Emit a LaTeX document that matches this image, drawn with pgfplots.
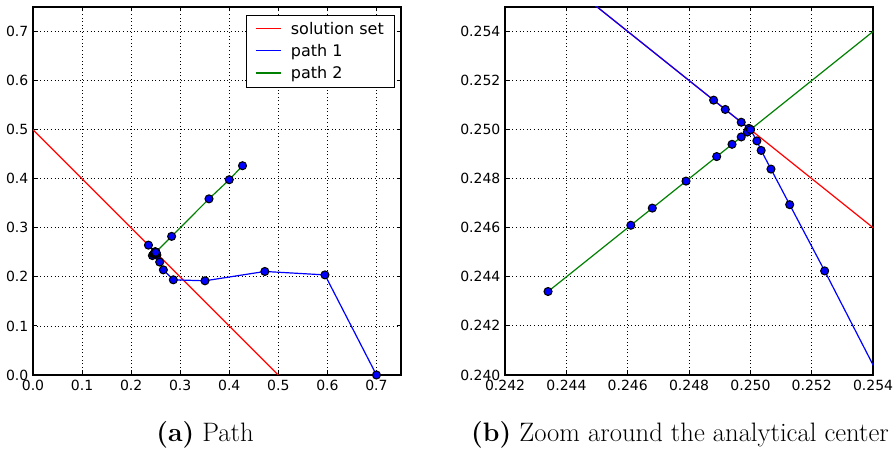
\documentclass[border=0pt]{standalone}
\usepackage{pgfplots}
\usepackage{pgfplotstable}
\pgfplotsset{compat=1.18}
\usepackage{fontspec}
\newfontfamily\dejavu{DejaVu Sans}

\definecolor{mplgreen}{rgb}{0,0.5,0}

\pgfplotstableread{
x y
0 0.5
0.5 0
}\solset

\pgfplotstableread{
x y
0.700 0.000
0.595 0.204
0.4725 0.211
0.3505 0.192
0.286 0.194
0.2657 0.2143
0.2582 0.2302
0.25242 0.24424
0.25128 0.24694
0.25067 0.24839
0.25035 0.24915
0.25021 0.24954
0.25000 0.25000
0.2353 0.2647
0.24880 0.25120
0.24918 0.25082
0.24970 0.25030
0.24995 0.25005
0.25000 0.25000
}\pathone

\pgfplotstableread{
x y
0.427 0.4265
0.400 0.398
0.3587 0.359
0.2825 0.2825
0.2434 0.2434
0.2461 0.2461
0.2468 0.2468
0.2479 0.2479
0.2489 0.2489
0.2494 0.2494
0.2497 0.2497
0.2499 0.2499
0.2500 0.2500
}\pathtwo

\pgfplotsset{
  mplstyle/.style={
    scale only axis, width=276pt, height=276pt,
    axis line style={black, line width=1pt},
    tick align=inside, major tick length=3pt,
    tick style={black, line width=0.8pt},
    grid=major,
    major grid style={black, line width=0.6pt, dash pattern=on 0.7pt off 2pt},
    tick label style={font=\dejavu\fontsize{10.5}{12}\selectfont},
    scaled ticks=false,
    /pgf/number format/assume math mode=true,
    clip=true,
  },
  dot/.style={mark=*, mark size=3pt, mark options={fill=blue, draw=black, line width=0.8pt}},
}

\begin{document}
\begin{tikzpicture}
\path[use as bounding box] (-24.75pt,-55.5pt) rectangle (647.25pt,281.25pt);

\begin{axis}[mplstyle,
  at={(0pt,0pt)}, anchor=south west,
  xmin=0, xmax=0.75, ymin=0, ymax=0.75,
  xtick={0,0.1,...,0.7}, ytick={0,0.1,...,0.7},
  xticklabel style={/pgf/number format/.cd, fixed, fixed zerofill, precision=1},
  yticklabel style={/pgf/number format/.cd, fixed, fixed zerofill, precision=1},
  legend style={at={(1,1)}, anchor=north east, xshift=-4.5pt, yshift=-6pt,
    draw=black, line width=0.8pt, fill=white, font=\dejavu\fontsize{12}{13}\selectfont,
    row sep=2pt, inner xsep=6pt, inner ysep=3pt},
  legend cell align=left,
  legend image code/.code={\draw[#1, line width=1.1pt] (0pt,0.5pt) -- (19pt,0.5pt); \path (24pt,0pt);},
]
\addplot[red, line width=0.9pt] table {\solset};
\addlegendentry{solution set}
\addplot[blue, line width=0.9pt, dot] table {\pathone};
\addlegendentry{path 1}
\addplot[mplgreen, line width=0.9pt, dot] table {\pathtwo};
\addlegendentry{path 2}
\end{axis}

\begin{axis}[mplstyle,
  at={(354pt,0pt)}, anchor=south west,
  xmin=0.242, xmax=0.254, ymin=0.240, ymax=0.255,
  xtick={0.242,0.244,0.246,0.248,0.250,0.252,0.254},
  ytick={0.240,0.242,0.244,0.246,0.248,0.250,0.252,0.254},
  xticklabel style={/pgf/number format/.cd, fixed, fixed zerofill, precision=3},
  yticklabel style={/pgf/number format/.cd, fixed, fixed zerofill, precision=3},
]
\addplot[red, line width=0.9pt] table {\solset};
\addplot[blue, line width=0.9pt, dot] table {\pathone};
\addplot[mplgreen, line width=0.9pt, dot] table {\pathtwo};
\end{axis}

\node[anchor=base, font=\fontsize{20}{24}\selectfont] at (129pt,-50pt) {\textbf{(a)} Path};
\node[anchor=base, font=\fontsize{20}{24}\selectfont] at (485.25pt,-50pt) {\textbf{(b)} Zoom around the analytical center};
\end{tikzpicture}
\end{document}
